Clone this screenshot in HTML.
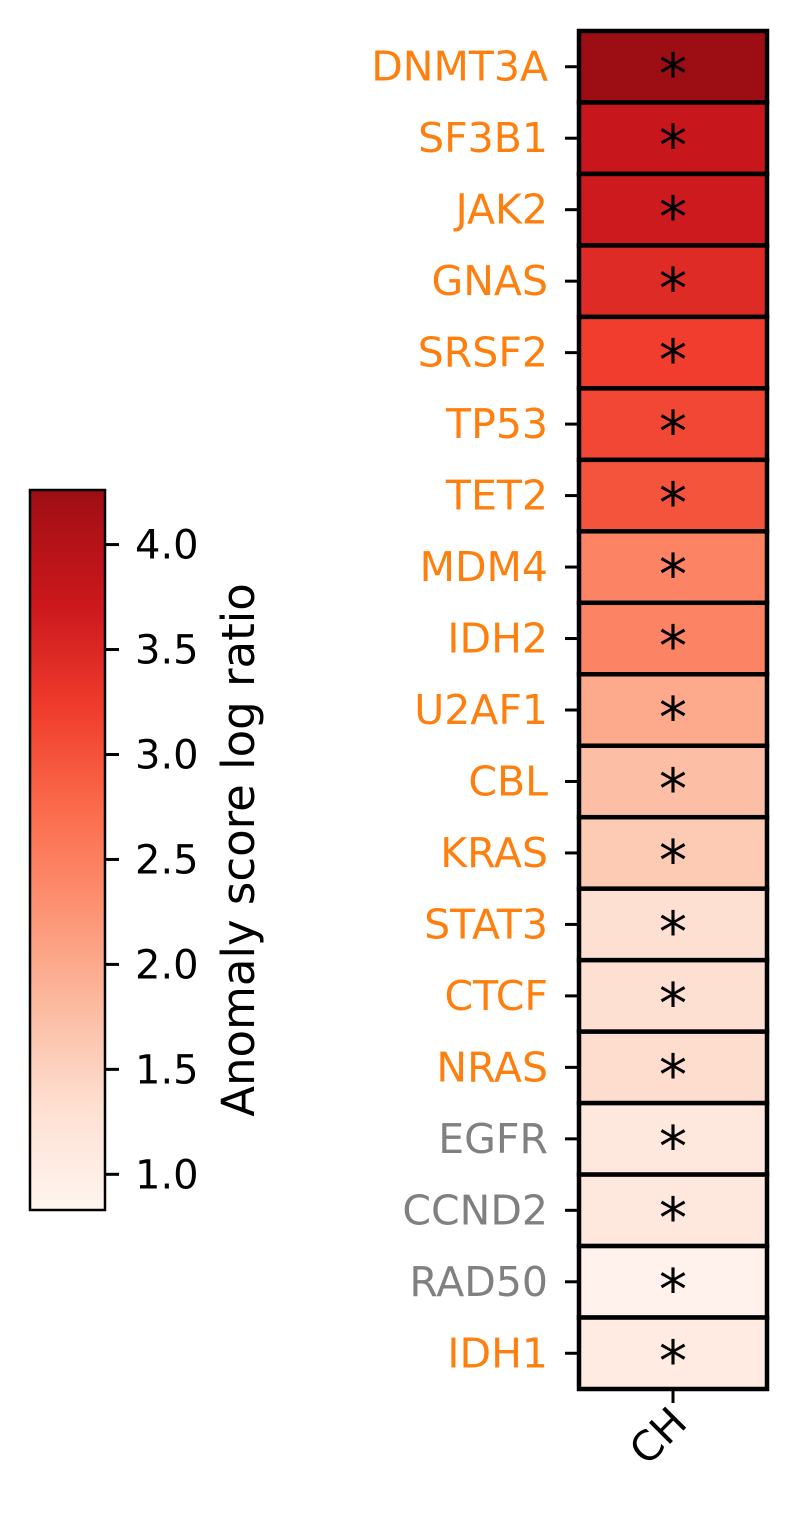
<!DOCTYPE html>
<html><head><meta charset="utf-8"><style>
html,body{margin:0;padding:0;background:#fff;width:798px;height:1520px;overflow:hidden}
svg{display:block;font-family:"DejaVu Sans","Liberation Sans",sans-serif}
</style></head><body>
<svg id="chart" width="798" height="1520" viewBox="0 0 798 1520">
<defs><linearGradient id="cbgrad" x1="0" y1="1" x2="0" y2="0">
<stop offset="0" stop-color="#fff5f0"/><stop offset="0.14" stop-color="#fee0d2"/><stop offset="0.28" stop-color="#fcbba1"/><stop offset="0.42" stop-color="#fc9272"/><stop offset="0.56" stop-color="#fb6a4a"/><stop offset="0.70" stop-color="#ef3b2c"/><stop offset="0.84" stop-color="#cb181d"/><stop offset="0.98" stop-color="#a50f15"/><stop offset="1" stop-color="#9c0e14"/>
</linearGradient></defs>
</svg>
<script>
const genes=["DNMT3A","SF3B1","JAK2","GNAS","SRSF2","TP53","TET2","MDM4","IDH2","U2AF1","CBL","KRAS","STAT3","CTCF","NRAS","EGFR","CCND2","RAD50","IDH1"];
const values=[4.25,3.75,3.68,3.45,3.2,3.1,2.97,2.45,2.45,2.0,1.75,1.6,1.3,1.3,1.35,1.15,1.12,0.9,1.05];
const highlighted=[1,1,1,1,1,1,1,1,1,1,1,1,1,1,1,0,0,0,1];
const cbTicks=[1.0,1.5,2.0,2.5,3.0,3.5,4.0];
const columns=["CH"];
const vmin=0.83,vmax=4.26;
const cmax=vmin+(vmax-vmin)/0.895;
const reds=["#fff5f0","#fee0d2","#fcbba1","#fc9272","#fb6a4a","#ef3b2c","#cb181d","#a50f15","#67000d"];
function hex(c){return [1,3,5].map(i=>parseInt(c.substr(i,2),16));}
function cmap(v){let t=Math.max(0,Math.min(1,(v-vmin)/(cmax-vmin)))*(reds.length-1);let i=Math.min(Math.floor(t),reds.length-2),f=t-i;const a=hex(reds[i]),b=hex(reds[i+1]);return `rgb(${a.map((x,k)=>Math.round(x+(b[k]-x)*f)).join(',')})`;}
const svg=document.getElementById('chart');const NS="http://www.w3.org/2000/svg";
function el(t,a,p){const e=document.createElementNS(NS,t);for(const k in a)e.setAttribute(k,a[k]);(p||svg).appendChild(e);return e;}
const hx0=579,hx1=767,hy0=31,hy1=1389;const rh=(hy1-hy0)/genes.length;
const rowY=i=>hy0+i*rh;
genes.forEach((g,i)=>{
 const r=el('rect',{x:hx0,y:rowY(i),width:hx1-hx0,height:rh,fill:cmap(values[i]),stroke:'#000','stroke-width':4.5});
 
 
 const s=el('text',{x:(hx0+hx1)/2,y:rowY(i)+rh/2+27,'text-anchor':'middle','font-size':56,fill:'#000'});s.textContent='*';
 
 
 const tk=el('line',{x1:hx0-14,x2:hx0,y1:rowY(i)+rh/2,y2:rowY(i)+rh/2,stroke:'#000','stroke-width':3});
 
 
 const l=el('text',{x:hx0-31,y:rowY(i)+rh/2+14,'text-anchor':'end','font-size':41,fill:highlighted[i]?'#ff7f0e':'#808080'});l.textContent=g;
 
 
});
const fr=el('rect',{x:hx0,y:hy0,width:hx1-hx0,height:hy1-hy0,fill:'none',stroke:'#000','stroke-width':3.5});


columns.forEach((c,j)=>{const cx=(hx0+hx1)/2;
 const t=el('line',{x1:cx,x2:cx,y1:hy1,y2:hy1+14,stroke:'#000','stroke-width':3});
 
 
 const l=el('text',{x:cx+16,y:hy1+36,'text-anchor':'end','font-size':41,transform:`rotate(-45 ${cx+16} ${hy1+36})`});l.textContent=c;
 
 
});
const cx0=30,cx1=105,cy0=490,cy1=1210;const cby=v=>cy1-(v-vmin)/(vmax-vmin)*(cy1-cy0);
const cb=el('rect',{x:cx0,y:cy0,width:cx1-cx0,height:cy1-cy0,fill:'url(#cbgrad)',stroke:'#000','stroke-width':2.5});


cbTicks.forEach(v=>{const y=cby(v);
 const t=el('line',{x1:cx1,x2:cx1+14,y1:y,y2:y,stroke:'#000','stroke-width':3});
 
 
 const l=el('text',{x:cx1+30,y:y+14,'font-size':40});l.textContent=v.toFixed(1);
 
 
});
const ct=el('text',{x:254,y:850,'text-anchor':'middle','font-size':45,transform:'rotate(-90 254 850)'});ct.textContent='Anomaly score log ratio';


</script>
</body></html>
